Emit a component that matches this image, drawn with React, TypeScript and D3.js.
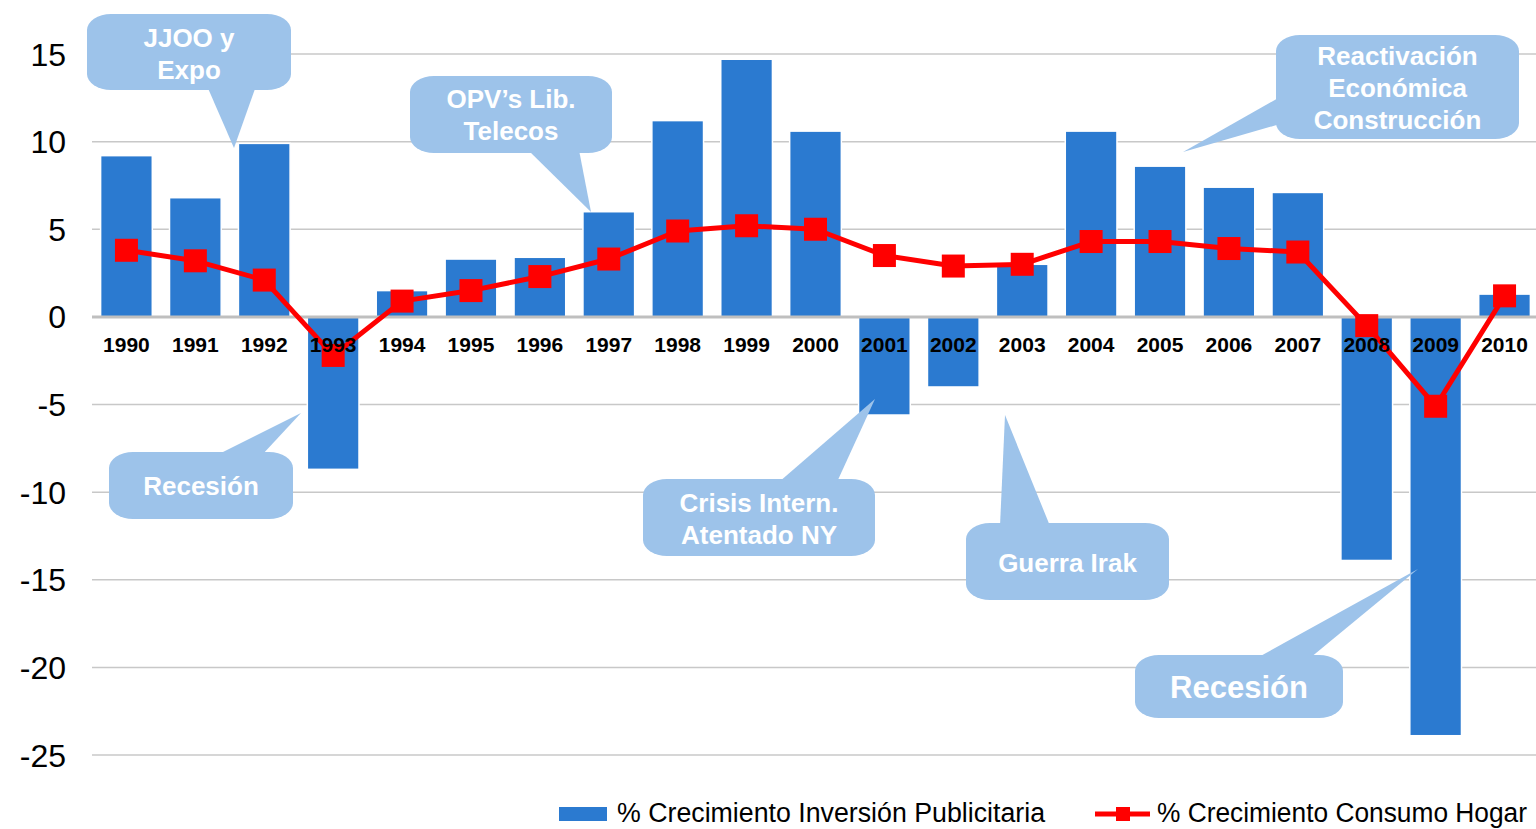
import React from 'react';
import * as d3 from 'd3';

// datos
const years = ['1990', '1991', '1992', '1993', '1994', '1995', '1996', '1997', '1998', '1999', '2000',
  '2001', '2002', '2003', '2004', '2005', '2006', '2007', '2008', '2009', '2010'];
const inversion = [9.2, 6.8, 9.9, -8.7, 1.5, 3.3, 3.4, 6.0, 11.2, 14.7, 10.6,
  -5.6, -4.0, 3.0, 10.6, 8.6, 7.4, 7.1, -13.9, -23.9, 1.3];
const consumo = [3.8, 3.2, 2.1, -2.2, 0.9, 1.5, 2.3, 3.3, 4.9, 5.2, 5.0,
  3.5, 2.9, 3.0, 4.3, 4.3, 3.9, 3.7, -0.5, -5.1, 1.2];
const yTicks = [15, 10, 5, 0, -5, -10, -15, -20, -25];
const seriesNames = ['% Crecimiento Inversión Publicitaria', '% Crecimiento Consumo Hogar'];

const callouts = [
  { lines: ['JJOO y', 'Expo'], box: [87, 14, 291, 90], ptr: [[207, 86], [256, 86], [234, 148]], base: 47 },
  { lines: ['OPV’s Lib.', 'Telecos'], box: [410, 76, 612, 153], ptr: [[528, 150], [579, 150], [591, 212]], base: 108 },
  { lines: ['Reactivación', 'Económica', 'Construcción'], box: [1276, 35, 1519, 139], ptr: [[1280, 97], [1280, 124], [1183, 152]], base: 65 },
  { lines: ['Recesión'], box: [109, 452, 293, 519], ptr: [[217, 455], [262, 455], [301, 413]], base: 495 },
  { lines: ['Crisis Intern.', 'Atentado NY'], box: [643, 479, 875, 556], ptr: [[779, 482], [837, 482], [875, 399]], base: 512 },
  { lines: ['Guerra Irak'], box: [966, 523, 1169, 600], ptr: [[1000, 526], [1050, 526], [1005, 415]], base: 572 },
  { lines: ['Recesión'], box: [1135, 655, 1343, 718], ptr: [[1257, 658], [1310, 658], [1418, 569]], base: 698, size: 31 },
];

const W = 1536;
const H = 829;
const BLUE = '#2B7AD0';
const RED = '#FF0000';
const CALLOUT = '#9DC3EA';
const FONT = 'Liberation Sans, Arial, sans-serif';

function roundBox(x0: number, y0: number, x1: number, y1: number, rx: number, ry: number) {
  return `M${x0 + rx},${y0} H${x1 - rx} A${rx},${ry} 0 0 1 ${x1},${y0 + ry} V${y1 - ry} A${rx},${ry} 0 0 1 ${x1 - rx},${y1}` +
    ` H${x0 + rx} A${rx},${ry} 0 0 1 ${x0},${y1 - ry} V${y0 + ry} A${rx},${ry} 0 0 1 ${x0 + rx},${y0} Z`;
}

export default function App() {
  const x = d3.scaleBand<string>().domain(years).range([92, 1539]).paddingInner(0.25).paddingOuter(0.125);
  const y = d3.scaleLinear().domain([-25, 15]).range([755, 54]);
  const cx = (d: string) => (x(d) as number) + x.bandwidth() / 2;

  const line = d3.line<number>()
    .x((_, i) => cx(years[i]))
    .y(d => y(d));

  const ms = 23;

  return (
    <svg width={W} height={H} style={{ position: 'absolute', left: 0, top: 0, background: '#fff' }}>
      {/* gridlines */}
      {yTicks.filter(t => t !== 0).map(t => (
        <line key={t} x1={92} x2={W} y1={y(t)} y2={y(t)} stroke="#C8C8C8" strokeWidth={1.5} />
      ))}
      {/* y labels */}
      {yTicks.map(t => (
        <text key={'l' + t} x={66} y={y(t)} dy="0.36em" textAnchor="end" fontFamily={FONT} fontSize={32} fill="#000">
          {t}
        </text>
      ))}
      {/* bars */}
      {inversion.map((v, i) => (
        <rect key={years[i]} x={x(years[i])} width={x.bandwidth()}
          y={y(Math.max(0, v))} height={Math.abs(y(v) - y(0))}
          fill={BLUE} stroke="#fff" strokeWidth={1.5} />
      ))}
      {/* zero axis */}
      <line x1={92} x2={W} y1={y(0)} y2={y(0)} stroke="#BFBFBF" strokeWidth={3} />
      {/* line series */}
      <path d={line(consumo) || ''} fill="none" stroke={RED} strokeWidth={5} strokeLinejoin="round" />
      {consumo.map((v, i) => (
        <rect key={'m' + i} x={cx(years[i]) - ms / 2} y={y(v) - ms / 2} width={ms} height={ms} fill={RED} />
      ))}
      {/* year labels */}
      {years.map(yr => (
        <text key={'x' + yr} x={cx(yr)} y={352} textAnchor="middle" fontFamily={FONT} fontWeight="bold" fontSize={21} fill="#000">
          {yr}
        </text>
      ))}
      {/* callouts */}
      {callouts.map((c, k) => {
        const [x0, y0, x1, y1] = c.box;
        const size = c.size || 26;
        return (
          <g key={'c' + k}>
            <path d={roundBox(x0, y0, x1, y1, 24, 16)} fill={CALLOUT} />
            <polygon points={c.ptr.map(p => p.join(',')).join(' ')} fill={CALLOUT} />
            {c.lines.map((ln, j) => (
              <text key={j} x={(x0 + x1) / 2} y={c.base + j * 32} textAnchor="middle" fontFamily={FONT}
                fontWeight="bold" fontSize={size} fill="#fff">{ln}</text>
            ))}
          </g>
        );
      })}
      {/* legend */}
      <rect x={559} y={807} width={48} height={14} fill={BLUE} />
      <text x={617} y={822} fontFamily={FONT} fontSize={27} textLength={428} lengthAdjust="spacingAndGlyphs" fill="#000">
        {seriesNames[0]}
      </text>
      <line x1={1095} x2={1150} y1={814} y2={814} stroke={RED} strokeWidth={5} />
      <rect x={1116} y={807} width={14} height={14} fill={RED} />
      <text x={1157} y={822} fontFamily={FONT} fontSize={27} textLength={370} lengthAdjust="spacingAndGlyphs" fill="#000">
        {seriesNames[1]}
      </text>
    </svg>
  );
}
